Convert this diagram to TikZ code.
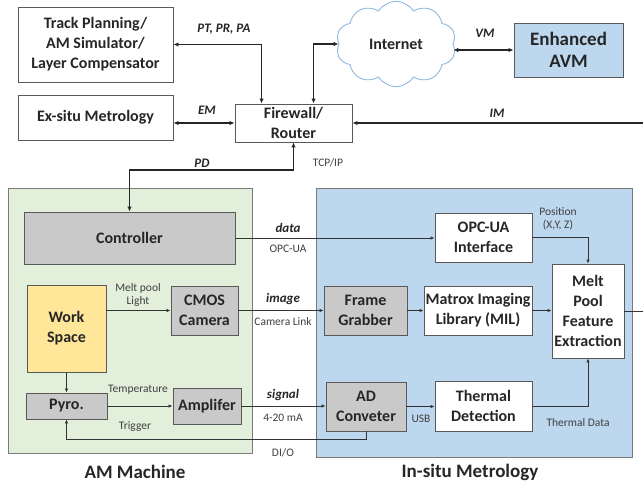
\documentclass[tikz,border=0pt]{standalone}
\usepackage{fontspec}
\setmainfont{Carlito}
\usetikzlibrary{arrows.meta,shapes.symbols}

\definecolor{gfill}{HTML}{E2EFDA}
\definecolor{bfill}{HTML}{BDD7EE}
\definecolor{boxgray}{HTML}{C9C9C9}
\definecolor{wsfill}{HTML}{FFE699}
\definecolor{edge}{HTML}{595959}
\definecolor{lbl}{HTML}{404040}
\definecolor{cloudedge}{HTML}{8FB8E0}

\tikzset{
  box/.style={draw=edge, line width=0.9pt, fill=white, inner sep=1pt, align=center,
    font=\fontsize{16}{20}\selectfont\bfseries, text=black!85},
  gbox/.style={box, fill=boxgray},
  area/.style={draw=edge!80, line width=1pt, inner sep=0pt},
  thickln/.style={line width=1.4pt, draw=black!85},
  thinln/.style={line width=0.8pt, draw=black!80},
  tip/.tip={Latex[length=5pt,width=4.5pt]},
  smalltip/.tip={Latex[length=4pt,width=3.5pt]},
  tag/.style={font=\fontsize{13}{15}\selectfont\bfseries\itshape, text=black!85, inner sep=0pt},
  note/.style={font=\fontsize{11.5}{13.5}\selectfont, text=lbl, inner sep=0pt, align=center},
  title/.style={font=\fontsize{19}{22}\selectfont\bfseries, text=black!85, inner sep=0pt},
}

\begin{document}
\begin{tikzpicture}[x=1pt,y=-1pt]
\useasboundingbox[fill=white] (0,0) rectangle (643,485);

% grouping areas
\node[area, fill=gfill, minimum width=244pt, minimum height=265pt] (am) at (130,320.5) {};
\node[area, fill=bfill, minimum width=316pt, minimum height=269pt] (insitu) at (474,322.5) {};
\node[title] (amT) at (135,472) {AM Machine};
\node[title] (insituT) at (470,472) {In-situ Metrology};

% network side
\node[box, minimum width=155pt, minimum height=75pt] (track) at (95.5,44.5) {Track Planning/\\AM Simulator/\\Layer Compensator};
\node[box, minimum width=155pt, minimum height=45pt] (exsitu) at (95.5,117.5) {Ex-situ Metrology};
\node[box, minimum width=117pt, minimum height=38pt] (fw) at (293.5,123) {Firewall/\\Router};
\node[cloud, cloud puffs=10, cloud puff arc=115, draw=cloudedge, line width=0.9pt,
      fill=white, minimum width=120pt, minimum height=78pt, inner sep=0pt,
      font=\fontsize{16}{20}\selectfont\bfseries, text=black!85] (net) at (396,44) {Internet};
\node[box, fill=bfill, font=\fontsize{19}{22}\selectfont\bfseries, minimum width=109pt, minimum height=54pt] (avm) at (568.5,50) {Enhanced\\AVM};

% AM machine
\node[gbox, minimum width=211pt, minimum height=52pt] (ctrl) at (129.5,238) {Controller};
\node[box, fill=wsfill, minimum width=79pt, minimum height=87pt] (work) at (66.5,328.5) {Work\\Space};
\node[gbox, minimum width=67pt, minimum height=49pt] (cmos) at (204.5,310.5) {CMOS\\Camera};
\node[gbox, minimum width=81pt, minimum height=26pt] (pyro) at (66.5,406) {Pyro.};
\node[gbox, minimum width=68pt, minimum height=36pt] (amp) at (207,406) {Amplifer};

% in-situ metrology
\node[box, minimum width=97pt, minimum height=49pt] (opc) at (483.5,237.5) {OPC-UA\\Interface};
\node[gbox, minimum width=83pt, minimum height=49pt] (frame) at (365.5,310.5) {Frame\\Grabber};
\node[box, minimum width=108pt, minimum height=49pt] (mil) at (478,310.5) {Matrox Imaging\\Library (MIL)};
\node[box, minimum width=72pt, minimum height=94pt] (melt) at (588,311) {Melt\\Pool\\Feature\\Extraction};
\node[gbox, minimum width=80pt, minimum height=49pt] (adc) at (366,406.5) {AD\\Conveter};
\node[box, minimum width=97pt, minimum height=50pt] (thermal) at (483.5,406) {Thermal\\Detection};

% free ends and bends
\coordinate (imIn) at (643,123);
\coordinate (meltOut) at (643,311);
\coordinate (pdBend) at (129.5,170);
\coordinate (trigBend) at (66.5,439);

% network links
\draw[thickln, tip-tip] (track.east) -| ([xshift=27pt]fw.north west);
\draw[thickln, tip-tip] (exsitu.east |- fw.west) -- (fw.west);
\draw[thickln, tip-tip] ([xshift=79pt]fw.north west) |- (net.west);
\draw[thickln, tip-tip] (avm.west -| net.east) -- (avm.west);
\draw[thickln, -tip] (imIn) -- (fw.east);
\draw[thickln, tip-tip] (fw.south) |- (pdBend) -- (ctrl.north);

% machine and sensor links
\draw[thinln, -smalltip] (ctrl.east) -- (ctrl.east -| opc.west);
\draw[thinln, -smalltip] (work.east |- cmos.west) -- (cmos.west);
\draw[thinln, -smalltip] (cmos.east) -- (frame.west);
\draw[thinln, -smalltip] (frame.east) -- (mil.west);
\draw[thinln, -smalltip] (mil.east) -- (mil.east -| melt.west);
\draw[thinln] (melt.east) -- (meltOut);
\draw[thinln, -smalltip] (work.south) -- (pyro.north);
\draw[thinln, -smalltip] (pyro.east) -- (amp.west);
\draw[thinln, -smalltip] (amp.east) -- (amp.east -| adc.west);
\draw[thinln, -smalltip] (adc.east) -- (adc.east -| thermal.west);
\draw[thinln, -smalltip] (adc.south) |- (trigBend) -- (pyro.south);
\draw[thinln, -smalltip] (opc.east) -| (melt.north);
\draw[thinln, -smalltip] (thermal.east) -| (melt.south);

% link labels
\node[tag] (tPT) at (224,29) {PT, PR, PA};
\node[tag] (tEM) at (207,110) {EM};
\node[tag] (tPD) at (202,163) {PD};
\node[note] (tTCP) at (328,163) {TCP/IP};
\node[tag] (tVM) at (485,33) {VM};
\node[tag] (tIM) at (497,113) {IM};
\node[tag] (tData) at (288,228) {data};
\node[note] (tOPC) at (288,249) {OPC-UA};
\node[note] (tMelt) at (138,295) {Melt pool\\Light};
\node[tag] (tImage) at (283,299) {image};
\node[note] (tCam) at (283,322) {Camera Link};
\node[note] (tTemp) at (138,390) {Temperature};
\node[note] (tTrig) at (135,427) {Trigger};
\node[tag] (tSig) at (283,395) {signal};
\node[note] (tmA) at (283,418) {4-20 mA};
\node[note] (tDIO) at (283,453) {DI/O};
\node[note] (tPos) at (558,219) {Position\\(X,Y, Z)};
\node[note] (tUSB) at (421,419) {USB};
\node[note] (tTD) at (578,423) {Thermal Data};
\end{tikzpicture}
\end{document}
